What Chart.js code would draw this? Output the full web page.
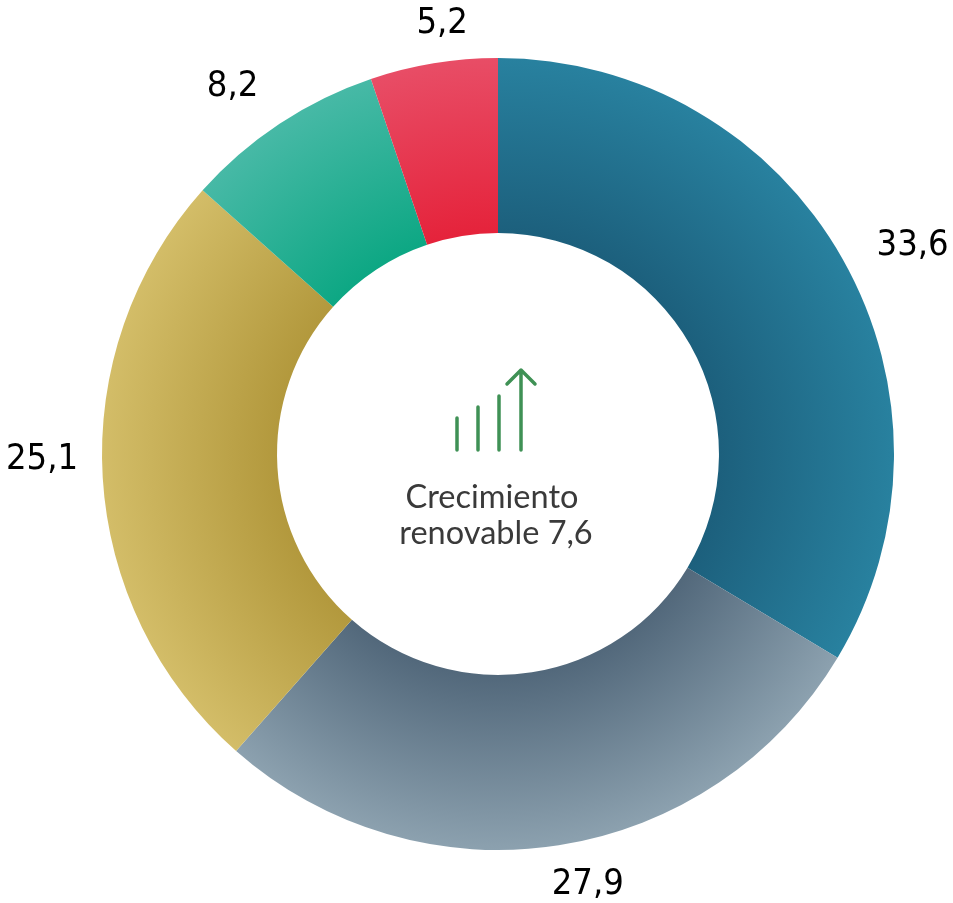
<!DOCTYPE html>
<html>
<head>
<meta charset="utf-8">
<style>
  html, body { margin: 0; background: #fff; }
  canvas { display: block; }
</style>
</head>
<body>
<canvas id="myChart" width="953" height="903"></canvas>
<script src="https://cdn.jsdelivr.net/npm/chart.js@4"></script>
<script>
const categories = ['Segmento 1', 'Segmento 2', 'Segmento 3', 'Segmento 4', 'Segmento 5'];
const values = [33.6, 27.9, 25.1, 8.2, 5.2];
const valueLabels = ['33,6', '27,9', '25,1', '8,2', '5,2'];
const centerLines = ['Crecimiento', 'renovable 7,6'];

const innerColors = ['#1c5f7c', '#51677a', '#b2983c', '#0ca783', '#e5223a'];
const outerColors = ['#28819f', '#8ca1af', '#d3bd68', '#47b9a6', '#e84d66'];
// distance of each label past the outer edge of the ring
const labelGaps = [69, 42, 60, 59, 40];
const labelTurn = [2.6, -3, 2.9, -2.2, 2];

function sliceFill(context) {
    const area = context.chart.chartArea;
    if (!area) return innerColors[context.dataIndex];
    const cx = (area.left + area.right) / 2;
    const cy = (area.top + area.bottom) / 2;
    const r = (area.right - area.left) / 2;
    const g = context.chart.ctx.createRadialGradient(cx, cy, r * 0.55, cx, cy, r);
    g.addColorStop(0, innerColors[context.dataIndex]);
    g.addColorStop(1, outerColors[context.dataIndex]);
    return g;
}

const ringLabels = {
    id: 'ringLabels',
    afterDatasetsDraw(chart) {
        const ctx = chart.ctx;
        ctx.save();
        ctx.fillStyle = '#000';
        ctx.font = 'condensed 36px "DejaVu Sans"';
        ctx.textAlign = 'center';
        ctx.textBaseline = 'middle';
        chart.getDatasetMeta(0).data.forEach(function (arc, i) {
            const a = (arc.startAngle + arc.endAngle) / 2 + labelTurn[i] * Math.PI / 180;
            const d = arc.outerRadius + labelGaps[i];
            ctx.fillText(valueLabels[i], arc.x + Math.cos(a) * d, arc.y + Math.sin(a) * d + 2);
        });
        ctx.restore();
    }
};

const centerBadge = {
    id: 'centerBadge',
    afterDraw(chart) {
        const ctx = chart.ctx;
        const arc = chart.getDatasetMeta(0).data[0];
        const x = arc.x;
        const y = arc.y;
        ctx.save();
        ctx.strokeStyle = '#3f9155';
        ctx.lineWidth = 3.5;
        ctx.lineCap = 'round';
        ctx.lineJoin = 'round';
        ctx.beginPath();
        [[-41, -36], [-20, -47], [1, -58], [23, -84]].forEach(function (b) {
            ctx.moveTo(x + b[0], y - 4);
            ctx.lineTo(x + b[0], y + b[1]);
        });
        ctx.moveTo(x + 9, y - 70);
        ctx.lineTo(x + 23, y - 84);
        ctx.lineTo(x + 37, y - 70);
        ctx.stroke();
        ctx.fillStyle = '#3a3a3a';
        ctx.font = '32.5px Lato';
        ctx.textAlign = 'center';
        ctx.textBaseline = 'alphabetic';
        ctx.fillText(centerLines[0], x - 6, y + 54);
        ctx.fillText(centerLines[1], x - 2, y + 90);
        ctx.restore();
    }
};

const data = {
    labels: categories,
    datasets: [{
        data: values,
        backgroundColor: sliceFill,
        borderWidth: 0
    }]
};

const config = {
    type: 'doughnut',
    data,
    options: {
        responsive: false,
        animation: false,
        cutout: '55.8%',
        layout: { padding: { left: 102, right: 59, top: 58, bottom: 53 } },
        plugins: {
            legend: { display: false },
            title: { display: false },
            tooltip: { enabled: false }
        }
    },
    plugins: [ringLabels, centerBadge]
};

var myChart = new Chart(document.getElementById('myChart'), config);
</script>
</body>
</html>
